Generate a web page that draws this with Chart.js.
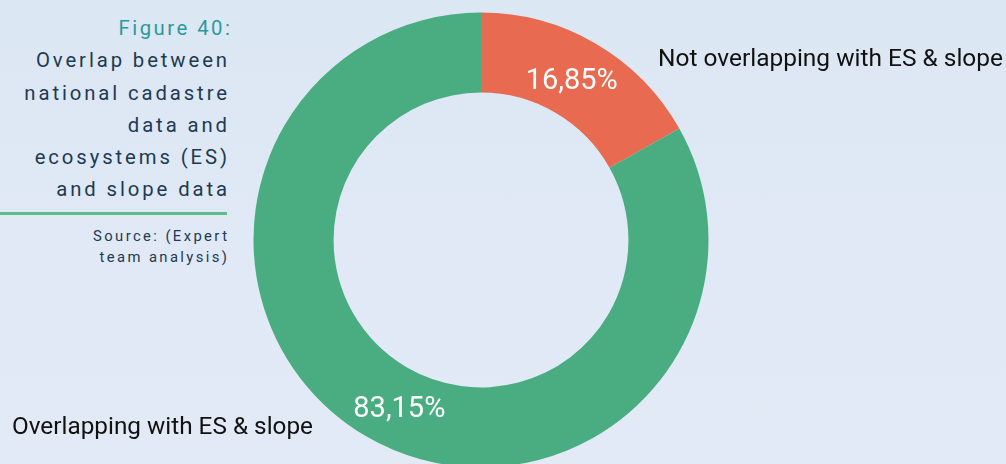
<!DOCTYPE html>
<html>
<head>
<meta charset="utf-8">
<script src="https://cdn.jsdelivr.net/npm/chart.js@4.4.1/dist/chart.umd.min.js"></script>
<style>
  html, body { margin: 0; padding: 0; }
  body {
    width: 1006px; height: 464px; overflow: hidden; position: relative;
    background: linear-gradient(180deg, #dce7f4 0%, #e0e9f5 55%, #e2eaf6 100%);
    font-family: Roboto, "Noto Sans", sans-serif;
  }
  #wrap { position: absolute; left: 0; top: 0; width: 1006px; height: 480px; }
  .caption {
    position: absolute; right: 779px; top: 12px; width: 240px;
    text-align: right; font-weight: 400; font-size: 20.3px; line-height: 32.3px;
    letter-spacing: 2.9px; color: #1d3a52; margin-right: -2.9px;
  }
  .caption .fig { color: #2a9a9c; letter-spacing: 2.5px; margin-right: -2.5px; }
  .rule {
    position: absolute; left: 0; top: 212px; width: 227px; height: 3px; background: #5cbd8b;
  }
  .source {
    position: absolute; right: 779px; top: 226px; width: 200px;
    text-align: right; font-weight: 400; font-size: 14.8px; line-height: 21px;
    letter-spacing: 2.4px; color: #1d3a52; margin-right: -2.4px;
  }
</style>
</head>
<body>
<div class="caption">
  <div class="fig">Figure 40:</div>
  <div>Overlap between</div>
  <div>national cadastre</div>
  <div>data and</div>
  <div>ecosystems (ES)</div>
  <div>and slope data</div>
</div>
<div class="rule"></div>
<div class="source">
  <div>Source: (Expert</div>
  <div>team analysis)</div>
</div>
<div id="wrap"><canvas id="chart" width="1006" height="480"></canvas></div>
<script>
// Share of national cadastre parcels vs. ecosystems & slope layers
const categories = ['Not overlapping with ES & slope', 'Overlapping with ES & slope'];
const shares = [16.85, 83.15];
const valueLabels = ['16,85%', '83,15%'];
const sliceColors = ['#e86a50', '#4aad81'];

// Category names sit outside the ring, next to their slice
const categoryLabelPlacement = [
  { x: 658, y: 66, width: 345 },
  { x: 12, y: 434, width: 301 }
];
// Small nudges of the value labels away from the exact slice centroid
const valueLabelNudge = [
  { dx: -4, dy: 0 },
  { dx: 13, dy: 4 }
];

function fitText(ctx, text, x, y, width) {
  const w = ctx.measureText(text).width;
  const sx = width ? width / w : 1;
  ctx.save();
  ctx.translate(x, y);
  ctx.scale(sx, 1);
  ctx.textAlign = 'left';
  ctx.fillText(text, 0, 0);
  ctx.restore();
}

const labelsPlugin = {
  id: 'sliceLabels',
  afterDatasetsDraw(chart) {
    const ctx = chart.ctx;
    const meta = chart.getDatasetMeta(0);
    ctx.save();
    ctx.textBaseline = 'alphabetic';
    // percentage values inside the ring
    ctx.fillStyle = '#ffffff';
    ctx.font = '400 30px Roboto';
    meta.data.forEach((arc, i) => {
      const p = arc.getCenterPoint();
      const n = valueLabelNudge[i];
      const w = 92;
      fitText(ctx, valueLabels[i], p.x + n.dx - w / 2, p.y + n.dy + 11, w);
    });
    // category names
    ctx.fillStyle = '#111111';
    ctx.font = '400 23px Roboto';
    categories.forEach((name, i) => {
      const pl = categoryLabelPlacement[i];
      fitText(ctx, name, pl.x, pl.y, pl.width);
    });
    ctx.restore();
  }
};

new Chart(document.getElementById('chart'), {
  type: 'doughnut',
  data: {
    labels: categories,
    datasets: [{
      data: shares,
      backgroundColor: sliceColors,
      borderWidth: 0,
      hoverOffset: 0
    }]
  },
  options: {
    responsive: false,
    animation: false,
    cutout: '64.8%',
    layout: { padding: { top: 12.5, bottom: 12.5, left: 253.5, right: 297.5 } },
    plugins: { legend: { display: false }, tooltip: { enabled: false } }
  },
  plugins: [labelsPlugin]
});
</script>
</body>
</html>
